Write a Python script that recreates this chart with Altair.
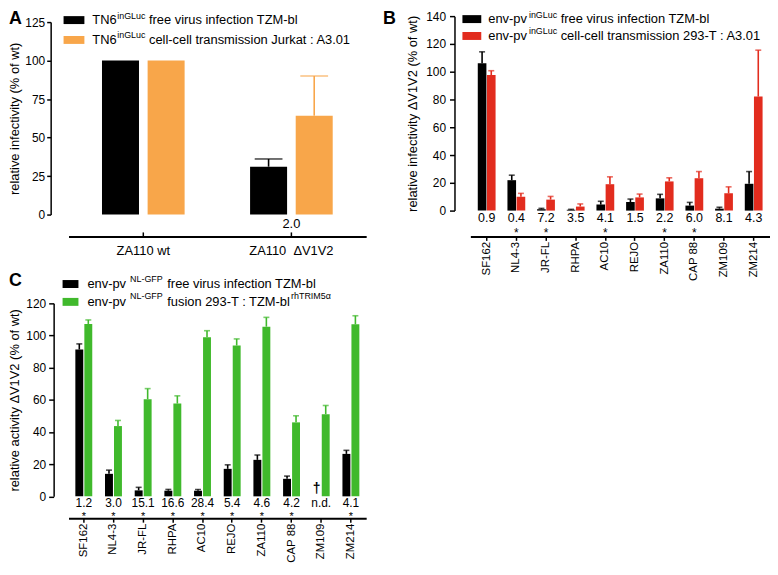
import altair as alt
import pandas as pd

FONT = "Liberation Sans"

# ---------------- data ----------------
# Panel A
a_groups = ["ZA110 wt", "ZA110\u00a0 \u0394V1V2"]
a_free = [100.0, 31.1]
a_free_err = [0.0, 5.0]
a_cell = [100.0, 64.2]
a_cell_err = [0.0, 25.8]
a_ratio = ["", "2.0"]
a_yticks = [0, 25, 50, 75, 100, 125]

# Panels B and C
strains = ["SF162", "NL4-3", "JR-FL", "RHPA", "AC10", "REJO", "ZA110", "CAP 88", "ZM109", "ZM214"]

b_free = [106.0, 21.9, 1.0, 0.6, 4.3, 6.2, 8.8, 3.6, 1.4, 19.3]
b_free_err = [8.3, 3.6, 0.6, 0.3, 2.4, 2.1, 2.9, 2.3, 1.0, 8.8]
b_cell = [97.6, 10.0, 7.9, 2.9, 19.0, 9.5, 21.0, 23.3, 12.4, 82.1]
b_cell_err = [3.1, 2.4, 2.3, 1.9, 5.3, 2.4, 2.6, 4.8, 4.7, 33.4]
b_ratio = ["0.9", "0.4", "7.2", "3.5", "4.1", "1.5", "2.2", "6.0", "8.1", "4.3"]
b_star = [False, True, True, False, True, False, True, True, False, False]
b_yticks = [0, 20, 40, 60, 80, 100, 120, 140]

c_free = [91.3, 14.0, 3.7, 3.5, 3.5, 17.1, 22.7, 10.9, None, 26.4]
c_free_err = [3.5, 2.3, 1.9, 0.8, 0.8, 2.5, 3.0, 1.7, None, 2.2]
c_fusion = [107.2, 43.7, 60.4, 57.7, 98.9, 93.8, 105.5, 46.0, 51.1, 107.0]
c_fusion_err = [2.5, 3.5, 6.6, 4.8, 4.1, 4.1, 5.8, 4.1, 5.4, 5.3]
c_ratio = ["1.2", "3.0", "15.1", "16.6", "28.4", "5.4", "4.6", "4.2", "n.d.", "4.1"]
c_star = [True, True, True, True, True, True, True, True, False, True]
c_yticks = [0, 20, 40, 60, 80, 100, 120]
c_missing = ["ZM109"]

BLACK = "#000000"
ORANGE = "#F8A64A"
RED = "#E22C1E"
GREEN = "#40B92C"

# ---------------- helpers ----------------
W = {' ': 278, '-': 333, '.': 278, ':': 278, '(': 333, ')': 333, '%': 889,
     'a': 556, 'b': 556, 'c': 500, 'd': 556, 'e': 556, 'f': 278, 'g': 556, 'h': 556,
     'i': 222, 'j': 222, 'k': 500, 'l': 222, 'm': 833, 'n': 556, 'o': 556, 'p': 556,
     'q': 556, 'r': 333, 's': 500, 't': 278, 'u': 556, 'v': 500, 'w': 722, 'x': 500,
     'y': 500, 'z': 500, 'A': 667, 'B': 667, 'C': 722, 'D': 722, 'E': 667, 'F': 611,
     'G': 778, 'H': 722, 'I': 278, 'J': 500, 'K': 667, 'L': 556, 'M': 833, 'N': 722,
     'O': 778, 'P': 667, 'Q': 778, 'R': 722, 'S': 667, 'T': 611, 'U': 722, 'V': 667,
     'W': 944, 'X': 667, 'Y': 667, 'Z': 611, '\u03b1': 578}

one = pd.DataFrame({"k": [0]})


def tw(s, fs):
    return sum(W.get(ch, 556) for ch in s) * fs / 1000.0


def txt(s, x, y, fs=13, align="left", baseline="middle", weight="normal"):
    return alt.Chart(one).mark_text(
        text=s, font=FONT, fontSize=fs, fontWeight=weight, align=align,
        baseline=baseline, color="black"
    ).encode(x=alt.value(x), y=alt.value(y))


def box(x1, x2, y1, y2, color):
    return alt.Chart(one).mark_rect(color=color).encode(
        x=alt.value(x1), x2=alt.value(x2), y=alt.value(y1), y2=alt.value(y2))


def legend(x_rect, rect_w, x_text, rows, sup_dy, fs=13, sfs=9):
    out = []
    for yc, color, parts in rows:
        out.append(box(x_rect, x_rect + rect_w, yc - 4, yc + 4, color))
        x = x_text
        for s, sup, gap in parts:
            f = sfs if sup else fs
            out.append(txt(s, x, yc - sup_dy if sup else yc, fs=f))
            x += tw(s, f) + gap
    return out


def long_df(groups, names, v1, e1, v2, e2):
    rows = []
    for g, a, ea, b, eb in zip(groups, v1, e1, v2, e2):
        rows.append(dict(group=g, series=names[0], value=a, err=ea))
        rows.append(dict(group=g, series=names[1], value=b, err=eb))
    df = pd.DataFrame(rows)
    df["top"] = df["value"] + df["err"]
    return df


def bar_layers(df, names, x_enc, y_scale, y_axis, colors, xoff_pad, cap, bw=1.6):
    xoff = alt.XOffset("series:N", sort=names,
                       scale=alt.Scale(domain=names, paddingInner=xoff_pad, paddingOuter=0))
    col = alt.Color("series:N", scale=alt.Scale(domain=names, range=colors), legend=None)

    def Y(f):
        return alt.Y(f"{f}:Q", scale=y_scale, axis=y_axis)

    bars = alt.Chart(df).mark_bar().encode(x=x_enc, xOffset=xoff, y=Y("value"), color=col)
    eb = df[(df["err"] > 0) & df["value"].notna()]
    rules = alt.Chart(eb).mark_rule(strokeWidth=bw).encode(
        x=x_enc, xOffset=xoff, y=Y("value"), y2="top:Q", color=col)
    caps = alt.Chart(eb).mark_tick(thickness=bw, size=cap).encode(
        x=x_enc, xOffset=xoff, y=Y("top"), color=col)
    return [bars, rules, caps], xoff


def label_layer(groups, labels, y, x_enc, fs=12.5, baseline="middle"):
    df = pd.DataFrame({"group": groups, "label": labels})
    df = df[df["label"] != ""]
    return alt.Chart(df).mark_text(
        font=FONT, fontSize=fs, baseline=baseline, align="center", color="black"
    ).encode(x=x_enc, y=alt.value(y), text="label:N")


# ---------------- Panel A ----------------
namesA = ["A free", "A cell"]
dfA = long_df(a_groups, namesA, a_free, a_free_err, a_cell, a_cell_err)
xA = alt.X("group:N", sort=a_groups, title=None,
           scale=alt.Scale(paddingInner=0.442, paddingOuter=0.226),
           axis=alt.Axis(labelAngle=0, offset=22, ticks=False, labelPadding=8,
                         labelFontSize=13, domainWidth=2))
yA_scale = alt.Scale(domain=[0, 125], range=[200, 6], nice=False)
yA_axis = alt.Axis(title="relative infectivity (% of wt)", values=a_yticks, offset=18,
                   tickSize=4, labelPadding=2, titlePadding=3)
layersA, _ = bar_layers(dfA, namesA, xA, yA_scale, yA_axis, [BLACK, ORANGE], 0.189, 28)
ticksA = alt.Chart(pd.DataFrame({"group": a_groups})).mark_rule(
    strokeWidth=1.5, color="black").encode(x=xA, y=alt.value(218), y2=alt.value(222))
ratioA = label_layer(a_groups, a_ratio, 210, xA, fs=13)
legA = legend(-5, 21, 24, [
    (4, BLACK, [("TN6", False, 0.5), ("inGLuc", True, 3.5), ("free virus infection TZM-bl", False, 0)]),
    (24, ORANGE, [("TN6", False, 0.5), ("inGLuc", True, 3.5), ("cell-cell transmission Jurkat : A3.01", False, 0)]),
], sup_dy=4.5)
A = alt.layer(*layersA, ticksA, ratioA, txt("A", -60, -6, fs=18, baseline="top", weight="bold"),
              *legA).properties(width=300, height=200)

# ---------------- Panel B ----------------
namesB = ["B free", "B cell"]
dfB = long_df(strains, namesB, b_free, b_free_err, b_cell, b_cell_err)
xB = alt.X("group:N", sort=strains, title=None,
           scale=alt.Scale(paddingInner=0.4, paddingOuter=0.25),
           axis=alt.Axis(labelAngle=-90, offset=26, tickSize=4, labelPadding=1,
                         labelFontSize=11.5, domainWidth=2))
yB_scale = alt.Scale(domain=[0, 140], nice=False)
yB_axis = alt.Axis(title="relative infectivity \u0394V1V2 (% of wt)", values=b_yticks, offset=16,
                   tickSize=5, labelPadding=4, titlePadding=6)
layersB, _ = bar_layers(dfB, namesB, xB, yB_scale, yB_axis, [BLACK, RED], 0.06, 6)
ratioB = label_layer(strains, b_ratio, 203, xB)
starB = label_layer(strains, ["*" if s else "" for s in b_star], 218.5, xB, fs=12)
legB = legend(-8, 19, 18, [
    (3, BLACK, [("env-pv", False, 2), ("inGLuc", True, 3.5), ("free virus infection TZM-bl", False, 0)]),
    (20, RED, [("env-pv", False, 2), ("inGLuc", True, 3.5), ("cell-cell transmission 293-T : A3.01", False, 0)]),
], sup_dy=4.5)
B = alt.layer(*layersB, ratioB, starB, txt("B", -88, -6, fs=18, baseline="top", weight="bold"),
              *legB).properties(width=302, height=196)

# ---------------- Panel C ----------------
namesC = ["C free", "C fusion"]
dfC = long_df(strains, namesC, c_free, c_free_err, c_fusion, c_fusion_err)
xC = alt.X("group:N", sort=strains, title=None,
           scale=alt.Scale(paddingInner=0.43, paddingOuter=0.23),
           axis=alt.Axis(labelAngle=-90, offset=22, tickSize=4, labelPadding=1,
                         labelFontSize=11.5, domainWidth=2))
yC_scale = alt.Scale(domain=[0, 120], nice=False)
yC_axis = alt.Axis(title="relative activity \u0394V1V2 (% of wt)", values=c_yticks, offset=15,
                   tickSize=5, labelPadding=3, titlePadding=4)
layersC, xoffC = bar_layers(dfC, namesC, xC, yC_scale, yC_axis, [BLACK, GREEN], 0.12, 6)
ratioC = label_layer(strains, c_ratio, 201, xC, fs=12)
starC = label_layer(strains, ["*" if s else "" for s in c_star], 215, xC, fs=11)
dagger = alt.Chart(pd.DataFrame({"group": c_missing, "series": [namesC[0]]})).mark_text(
    text="\u2020", font=FONT, fontSize=14, fontWeight="bold", color="black", baseline="middle"
).encode(x=xC, xOffset=xoffC, y=alt.value(187))
legC = legend(-6, 16, 19, [
    (-19.5, BLACK, [("env-pv", False, 4), ("NL-GFP", True, 4.5), ("free virus infection TZM-bl", False, 0)]),
    (-1.5, GREEN, [("env-pv", False, 4), ("NL-GFP", True, 4.5), ("fusion 293-T : TZM-bl", False, 0.5),
                   ("rhTRIM5\u03b1", True, 0)]),
], sup_dy=5.5)
C = alt.layer(*layersC, ratioC, starC, dagger,
              txt("C", -60, -31.5, fs=18, baseline="top", weight="bold"),
              *legC).properties(width=300, height=194.5)

chart = alt.concat(A, B, C, columns=2, spacing={"row": 89.5, "column": 105}, bounds="flush").resolve_scale(
    x="independent", y="independent", xOffset="independent", color="independent"
).properties(
    padding=0
).configure_view(stroke=None).configure_axis(
    grid=False, domainColor="black", tickColor="black", labelColor="black", titleColor="black",
    labelFont=FONT, titleFont=FONT, labelFontSize=12, titleFontSize=13, titleFontWeight="normal",
    domainWidth=1.5, tickWidth=1.5
)

chart.save("out.html", embed_options={"renderer": "svg", "actions": False})
